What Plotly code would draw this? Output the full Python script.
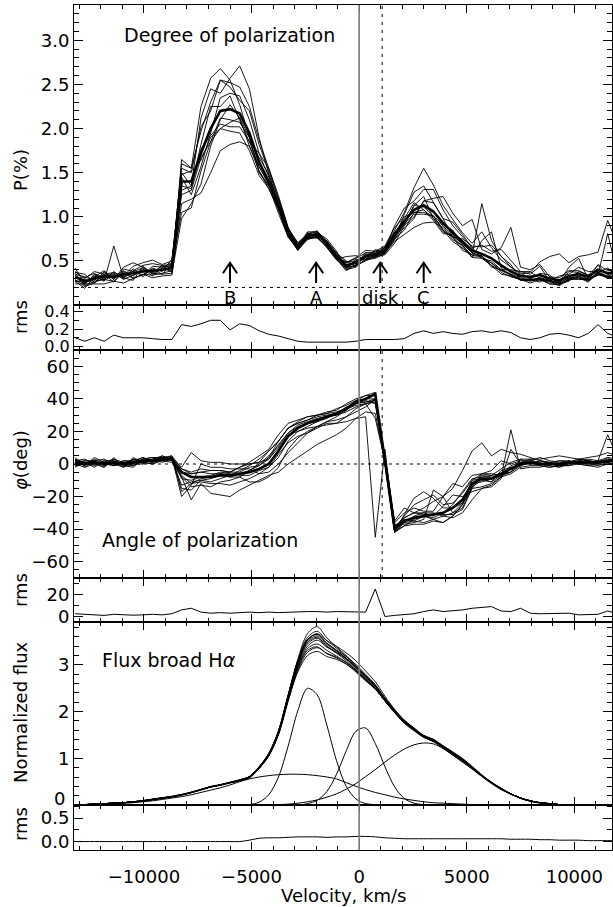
import numpy as np
import plotly.graph_objects as go

# ---------------- data ----------------
velocity = [-13200, -12750, -12300, -11850, -11400, -10950, -10500, -10050, -9600, -9150, -8700,
            -8250, -7800, -7350, -6900, -6450, -6000, -5550, -5100, -4650, -4200, -3750, -3300,
            -2850, -2400, -1950, -1500, -1050, -600, -150, 300, 750, 1200,
            1650, 2100, 2550, 3000, 3450, 3900, 4350, 4800, 5250, 5700,
            6150, 6600, 7050, 7500, 7950, 8400, 8850, 9300, 9750, 10200, 10650, 11100, 11550, 12000]

# degree of polarization (%), mean curve
p_mean = [0.32, 0.27, 0.30, 0.33, 0.32, 0.35, 0.36, 0.38, 0.39, 0.40, 0.42,
          1.40, 1.40, 1.72, 2.00, 2.20, 2.22, 2.17, 1.95, 1.62, 1.40, 1.12, 0.82,
          0.66, 0.78, 0.80, 0.70, 0.55, 0.45, 0.48, 0.55, 0.58, 0.62,
          0.80, 0.95, 1.08, 1.13, 1.06, 0.93, 0.82, 0.72, 0.62, 0.58,
          0.53, 0.45, 0.38, 0.33, 0.32, 0.34, 0.30, 0.28, 0.33, 0.35, 0.32, 0.40, 0.36, 0.38]
# individual epochs: offsets from the mean, in hundredths of a percent
p_dev = [
    [3, 5, -2, 4, -3, 6, 2, -4, 5, 3, 6, 10, -5, 40, 45, 20, 35, 54, 50, 28, 8, 5, 3,
     2, 3, 4, 2, -2, 3, 5, 4, 2, 3, 5, 10, 25, 42, 30, 20, 15, 10, 8, 25,
     12, 6, 5, 3, -2, 2, 4, -3, 5, 2, -4, 6, 3, 2],
    [-5, -8, 3, -6, 35, -4, -8, 6, -3, 5, -5, 25, 15, 53, 57, 48, 33, 10, -5, -12, -5, 8, 6,
     -3, -2, 2, 5, 6, -4, -3, -5, -2, 4, -5, 8, 20, 22, 10, 5, -5, -10, -5, 57,
     20, 10, 8, -5, -3, -8, 2, -4, -6, 3, 2, -3, 6, -5],
    [-8, -3, -6, -9, -5, -10, -6, -3, -8, -7, -8, -25, -20, -45, -50, -45, -40, -32, -15, -5, -3, 0, -3,
     -2, 2, -4, -3, -2, 4, 2, 0, 3, -2, -8, -15, -20, -20, -12, -5, -8, -4, -6, -3,
     -6, -5, -3, -5, -4, -3, -2, -3, -2, -4, -6, -3, -5, -6],
    [6, 3, 8, 2, 5, -2, 8, 10, 12, 6, 8, 15, 10, 30, 20, 35, 25, 15, 25, 20, 12, 8, 5,
     -3, 5, 3, -4, -3, -6, -2, 3, -4, 2, 10, 15, 10, 18, 25, 15, 8, 5, 3, 10,
     8, 18, 12, 5, 3, 10, -3, 5, 2, 8, 6, -2, -4, 3],
    [-6, 2, -5, 5, -3, 8, 12, 5, -4, 2, 3, -35, -30, -20, -15, -8, -12, -10, -5, 5, 8, 3, 4,
     4, -2, -3, 3, 4, 5, -4, 2, -3, -5, -10, -5, -8, 5, 10, 5, 12, 8, 3, -5,
     -5, -8, -6, -4, -7, -5, -3, -6, -4, -2, -3, -6, -4, -5],
    [10, -3, 4, -5, 2, -4, 5, -6, 3, -2, 10, -10, -5, 10, 25, 5, 15, -8, -10, 10, 15, 12, 6,
     2, -3, 4, -2, 3, -3, 2, -2, -3, 4, 3, -5, 5, 10, -8, -10, -4, -2, -3, -2,
     -10, -5, 2, 5, 6, -4, -6, -5, -3, -5, -2, -4, -3, -2],
    [-3, -6, -5, 2, -6, 3, -5, -4, 2, -5, -6, -42, -25, -35, -20, -10, 5, -5, -15, -10, -5, -8, -5,
     3, 4, -3, -4, -2, -3, 4, -4, 5, -3, -5, -10, -3, -5, -8, -3, -5, -6, -8, -5,
     -8, -10, -5, -4, -2, -5, -6, -4, -5, -3, -5, -4, -6, -3],
    [5, 8, -4, -3, 3, -5, 3, 7, 8, 5, 4, 5, -15, -15, -5, 15, 18, 20, 15, 10, 5, 3, 2,
     -2, 3, -2, 3, -3, 10, 8, -3, -2, -3, 0, -8, -10, 5, 15, 30, 22, 18, 35, 5,
     5, 20, 50, 10, 8, 12, 2, 3, 6, 4, 2, 5, -2, 6],
    [-2, 4, 6, -4, -5, 2, -6, -3, -5, -4, -3, -5, -8, 5, -8, -15, -20, -15, -10, -5, -3, -2, -4,
     -4, -3, -3, -5, -4, -2, -3, -4, -5, -4, -6, -3, -5, -10, -5, -2, 3, -3, -2, -5,
     -3, -5, -3, -2, -4, -3, -2, -3, -2, -3, -4, -3, -5, -4],
    [-4, -2, 2, 6, -2, 4, -3, 2, -2, 4, 2, 20, 15, 25, 30, 35, 30, 30, 30, 25, 15, 8, 5,
     5, 2, 3, 2, 4, 3, 6, 7, 3, 5, 8, 5, -3, -8, -5, -8, -5, 3, 5, 8,
     15, 10, 5, 2, 5, 15, 25, 30, 15, 20, 25, 20, 60, 30],
    [2, -5, -3, -4, 6, -6, -2, 3, -6, 2, -4, -15, -10, -5, -15, -20, -25, -22, -20, -15, -8, -3, -5,
     -3, -4, -2, -4, -3, -5, -5, -3, -4, -2, -3, -2, 5, -2, -5, -8, -10, -8, -5, -2,
     -8, -6, -4, -3, -5, -4, -3, -5, -4, -6, -3, -5, -4, -5],
    [4, -4, 5, -2, 4, -3, 2, 4, -3, -5, 5, 8, 12, -8, -10, -20, -15, -5, -5, -10, -8, -4, -2,
     -4, -2, -4, -3, 5, -2, -4, 5, -2, -3, 2, 3, 8, -5, -10, -12, -2, -4, -8, 15,
     30, -3, -5, -4, -3, -6, -4, -2, 10, 18, -3, -6, 45, -3],
]
p_rms = [0.10, 0.06, 0.10, 0.06, 0.13, 0.10, 0.10, 0.10, 0.09, 0.08, 0.08,
         0.25, 0.23, 0.26, 0.30, 0.30, 0.19, 0.26, 0.24, 0.18, 0.14, 0.12, 0.09,
         0.06, 0.05, 0.05, 0.05, 0.05, 0.05, 0.06, 0.08, 0.08, 0.08,
         0.08, 0.09, 0.15, 0.18, 0.15, 0.17, 0.15, 0.14, 0.17, 0.18,
         0.16, 0.18, 0.16, 0.10, 0.08, 0.10, 0.14, 0.15, 0.13, 0.10, 0.15, 0.25, 0.15, 0.11]

# angle of polarization (deg)
phi_mean = [1, 0, 1, 0, 1, 0, 1, 2, 2, 3, 3,
            -5, -8, -8, -8, -7, -7, -6, -5, -3, 0, 8, 17,
            22, 25, 27, 29, 31, 34, 38, 40, 43, 2,
            -40, -35, -33, -32, -31, -30, -27, -22, -12, -9,
            -9, -6, -3, 0, 1, 0, 0, 0, 1, 1, 1, 1, 2, 2]
phi_dev = [
    [2, -1, 3, 1, -2, 2, 0, -1, 1, 2, -1, 2, 3, 5, 4, 3, 2, 4, 5, 4, 3, 2, 1,
     -2, -3, -4, -5, -6, -8, -10, -11, -88, 7, 0, 2, 3, 2, 1, -2, -3, -2, -3, 2,
     1, -2, 0, 1, -1, 2, 0, -1, 1, 0, -1, 1, 0, -1],
    [-2, 1, -3, 2, 1, -2, 3, -1, -2, 0, 1, -15, -5, 8, 6, 5, 4, 3, 2, -3, -5, -8, -10,
     -9, -6, -4, -3, -2, -1, 0, -2, -3, 0, 1, 3, 8, 10, 12, 5, 3, 4, 2, 0,
     -2, 2, 1, -1, 0, 1, -1, 2, 0, -1, 1, 0, -1, 1],
    [1, 3, -1, -2, 2, -1, -3, 1, 2, -1, -2, -3, -14, -4, -10, -12, -13, -10, -8, -7, -7, -13, -17,
     -18, -17, -15, -14, -13, -12, -10, -8, -12, -1, 2, 1, -2, -4, -3, -6, -5, -3, 2, 3,
     2, 0, -2, 3, -1, 2, 1, -2, 0, 2, 1, -1, 1, 0],
    [3, -2, 1, 3, -1, 2, 1, 2, 0, -1, 1, 3, 15, 10, 9, 8, 7, 6, 5, 4, 8, 6, 5,
     4, 4, 3, 2, 1, 0, -2, -3, -5, -1, 4, 5, 6, 3, 2, 10, 15, 8, 5, 3,
     3, -1, 2, 1, 2, 0, 1, 2, 1, -1, 0, 1, 2, 1],
    [-1, 2, 0, -2, 3, -2, 2, 0, -1, 2, 0, -10, -8, -2, -3, -2, 0, 2, 4, 6, 8, 6, 5,
     3, 2, 3, 2, 3, 2, 1, 0, -3, 0, 3, -2, -3, -2, 15, 10, 12, 18, 20, 22,
     14, 15, 10, 6, 3, 2, 1, -1, 0, 2, 1, 0, -1, 1],
    [0, 1, -2, 1, -1, 0, 2, -2, 1, 0, 2, -12, -4, -3, -4, -5, -6, -5, -4, -3, -2, -2, -4,
     -5, -6, -5, -4, -6, -5, -4, -3, -4, 3, 5, 8, 3, 1, 0, -1, -4, -6, -3, -5,
     -3, -2, 24, -3, -3, -2, 0, -1, -2, 1, 0, -1, 2, -2],
    [1, -1, 2, 0, -2, 1, 0, 2, -1, 1, 0, -2, -4, -1, 0, 1, 2, 1, 3, 2, 4, 6, 5,
     3, 2, 2, 1, 0, -1, -1, -2, -4, -1, -2, -1, 1, 2, -1, 4, 8, 2, -5, -6,
     -5, -3, 12, 0, -1, 0, 1, 0, -1, 0, 1, 0, -1, 0],
    [-2, 0, 1, -1, 1, -1, -2, 1, 0, 1, -1, -3, -6, -5, -6, -4, -3, -2, -6, -8, -8, -10, -8,
     -6, -5, -4, -3, -4, -5, -6, -5, -3, 1, 2, -1, -2, 0, -3, -2, -6, -8, -10, -6,
     -4, -2, -3, -2, -2, -1, -2, -1, -2, -1, -2, -1, -2, -1],
    [2, 1, 0, 1, 2, 1, -1, 1, 2, 1, 2, 2, 2, 3, 4, 3, 2, 4, 6, 8, 9, 10, 8,
     5, 4, 3, 3, 2, 3, 2, 2, -1, 0, -1, -3, -4, -5, -4, -6, -5, -3, -2, -1,
     -2, -1, -2, 0, 1, 4, 2, 1, 0, 1, 2, 1, 16, 2],
    [-1, -2, -1, 0, -1, -2, 0, -1, -2, -1, 0, -8, -3, -2, -1, 0, -1, 0, 1, 2, 3, 4, 2,
     1, 0, -1, 0, -1, 0, 1, 2, 1, -2, 1, 2, 3, 5, 8, 10, -3, -5, -2, 3,
     5, 8, 3, 2, 1, 0, -1, -2, -1, 0, -1, -2, -1, 0],
    [0, 2, 1, -1, 0, 1, -2, 0, -1, 0, 1, -4, -2, 0, 1, 2, 1, -1, -2, -1, -2, -4, -3,
     -2, -2, -1, -1, 0, 1, -1, -1, -6, -2, -2, -3, -1, 0, -2, 0, 2, 5, 3, 1,
     2, 3, 4, 3, 2, 3, 4, 5, 3, 2, 3, 4, 5, 3],
    [-3, 1, -1, 2, -2, 0, -1, -2, 1, -2, 0, 0, 2, 3, 2, 1, -1, -2, 1, 3, 5, 3, 2,
     2, 1, 1, 0, -1, -2, -3, -3, -15, 0, -2, 4, 12, 15, 10, 3, 0, -2, 0, -2,
     0, -1, -2, -1, 0, -1, -2, -1, 0, -1, -2, -3, -2, -1],
]
phi_rms = [2.5, 2.0, 1.5, 1.0, 2.0, 1.5, 1.2, 1.5, 2.0, 1.5, 2.5,
           6.0, 7.5, 4.0, 3.0, 3.5, 3.0, 3.5, 4.0, 3.5, 4.0, 3.5, 4.0,
           4.0, 4.5, 4.5, 4.0, 4.5, 4.5, 4.5, 4.0, 25.0, 0.0,
           1.0, 1.5, 2.5, 4.5, 6.0, 4.5, 5.0, 6.0, 7.5, 8.0,
           9.0, 5.0, 4.5, 7.5, 3.0, 2.5, 2.5, 3.0, 3.0, 1.5, 1.5, 2.0, 5.0, 2.5]

# normalized broad H-alpha flux
flux_mean = [0.00, 0.01, 0.02, 0.03, 0.04, 0.05, 0.07, 0.09, 0.12, 0.15, 0.18,
             0.22, 0.27, 0.33, 0.39, 0.43, 0.48, 0.53, 0.60, 0.80, 1.08, 1.55, 2.30,
             3.00, 3.45, 3.57, 3.40, 3.27, 3.12, 2.93, 2.72, 2.52, 2.25,
             2.00, 1.78, 1.62, 1.47, 1.38, 1.24, 1.10, 0.96, 0.80, 0.63,
             0.48, 0.35, 0.24, 0.15, 0.09, 0.05, 0.03, 0.01, 0.00, 0.00, 0.00, 0.00, 0.00, 0.00]
flux_dev = [
    [0, 0, 0, 0, 0, 0, 0, 0, 0, 0, 0, 0, 0, 0, 0, 0, 0, 1, 1, 2, 3, 4, 6,
     12, 22, 25, 18, 12, 8, 6, 5, 4, 3, 3, 2, 2, 1, 1, 0, 0, 0, 0, 0,
     0, 0, 0, 0, 0, 0, 0, 0, 0, 0, 0, 0, 0, 0],
    [0, 0, 0, 0, 0, 0, 0, 0, 0, 0, 0, 0, 0, 0, 0, 0, 0, -1, -1, -1, -2, -3, -6,
     -15, -25, -28, -22, -15, -10, -6, -4, -3, -2, -2, -1, 0, 0, 1, 1, 1, 1, 0, 0,
     0, 0, 0, 0, 0, 0, 0, 0, 0, 0, 0, 0, 0, 0],
    [0, 0, 0, 0, 0, 0, 0, 0, 0, 0, 0, 0, 0, 0, 0, 0, 0, 0, 1, 1, 1, 2, 2,
     5, 8, 10, 12, 13, 14, 16, 15, 12, 8, 5, 4, 3, 2, 2, 1, 1, 1, 0, 0,
     0, 0, 0, 0, 0, 0, 0, 0, 0, 0, 0, 0, 0, 0],
    [0, 0, 0, 0, 0, 0, 0, 1, 1, 1, 1, 1, 1, 1, 1, 1, 1, 1, 1, 0, -1, 0, 1,
     4, 6, 5, 4, 3, 2, 2, 2, 3, 2, 2, 3, 3, 2, 2, 2, 2, 3, 2, 1,
     1, 1, 0, 0, 0, 0, 0, 0, 0, 0, 0, 0, 0, 0],
    [0, 0, 0, 0, 0, 0, 0, -1, -1, -1, -1, -1, -1, -1, -1, -1, -1, -1, -2, -2, -2, -3, -4,
     -6, -10, -12, -9, -8, -7, -5, -4, -3, -2, -2, -3, -3, -2, -2, -2, -3, -3, -2, -1,
     -1, -1, 0, 0, 0, 0, 0, 0, 0, 0, 0, 0, 0, 0],
    [0, 0, 0, 0, 0, 0, 0, 0, 0, 0, 0, 0, 0, 0, 0, 0, 1, 1, 1, 2, 2, 3, 5,
     8, 10, 8, 6, 5, 6, 8, 8, 6, 4, 3, 2, 1, 0, -1, -1, 0, 0, 0, 0,
     0, 0, 0, 0, 0, 0, 0, 0, 0, 0, 0, 0, 0, 0],
    [0, 0, 0, 0, 0, 0, 0, 0, 0, 0, 0, 0, 0, 0, 0, 0, 0, 0, -1, -1, -2, -3, -5,
     -8, -14, -18, -16, -12, -10, -8, -6, -4, -2, -1, 0, 1, 2, 3, 3, 3, 2, 1, 1,
     0, 0, 0, 0, 0, 0, 0, 0, 0, 0, 0, 0, 0, 0],
    [0, 0, 0, 0, 0, 0, 0, 0, 0, 0, 0, 0, 0, 0, 0, 0, 0, 0, 0, 1, 1, 1, 2,
     2, 3, 2, 0, -2, -3, -4, -4, -3, -2, -1, -1, 0, 1, 2, 3, 4, 4, 3, 2,
     1, 1, 0, 0, 0, 0, 0, 0, 0, 0, 0, 0, 0, 0],
    [0, 0, 0, 0, 0, 0, 0, 0, 0, 0, 0, 0, 0, 0, 0, 0, 0, 0, 1, 1, 2, 3, 5,
     10, 14, 15, 12, 9, 6, 4, 3, 2, 1, 0, -1, -2, -2, -2, -1, -1, 0, 0, 0,
     0, 0, 0, 0, 0, 0, 0, 0, 0, 0, 0, 0, 0, 0],
    [0, 0, 0, 0, 0, 0, 0, 0, 0, 0, 0, 0, 0, 0, 0, 0, 0, 0, 0, -1, -1, -2, -2,
     -3, -5, -4, -2, 0, 2, 4, 5, 5, 4, 3, 2, 1, 0, 0, -1, -1, -1, 0, 0,
     0, 0, 0, 0, 0, 0, 0, 0, 0, 0, 0, 0, 0, 0],
    [0, 0, 0, 0, 0, 0, 0, 0, 0, 0, 0, 0, 0, 0, 0, 0, 0, 0, 1, 1, 1, 2, 3,
     6, 9, 9, 7, 4, 2, 0, -1, -2, -2, -2, -2, -1, -1, 0, 0, 0, 0, 0, 0,
     0, 0, 0, 0, 0, 0, 0, 0, 0, 0, 0, 0, 0, 0],
    [0, 0, 0, 0, 0, 0, 0, 0, 0, 0, 0, 0, 0, 0, 0, 0, 0, -1, -1, -2, -3, -5, -8,
     -12, -18, -20, -15, -10, -6, -4, -3, -2, -2, -1, -1, 0, 0, 0, 0, 0, 0, 0, 0,
     0, 0, 0, 0, 0, 0, 0, 0, 0, 0, 0, 0, 0, 0],
]
# gaussian components of the fit
comp_broad = [0.00, 0.01, 0.01, 0.02, 0.03, 0.04, 0.05, 0.07, 0.09, 0.12, 0.15,
              0.18, 0.22, 0.27, 0.32, 0.37, 0.43, 0.50, 0.56, 0.60, 0.63, 0.65, 0.66,
              0.66, 0.65, 0.63, 0.60, 0.56, 0.48, 0.40, 0.33, 0.27, 0.22,
              0.17, 0.13, 0.10, 0.07, 0.05, 0.04, 0.03, 0.02, 0.01, 0.01,
              0.00, 0.00, 0.00, 0.00, 0.00, 0.00, 0.00, 0.00, 0.00, 0.00, 0.00, 0.00, 0.00, 0.00]
comp_blue = [0.00, 0.00, 0.00, 0.00, 0.00, 0.00, 0.00, 0.00, 0.00, 0.00, 0.00,
             0.00, 0.00, 0.00, 0.00, 0.00, 0.00, 0.00, 0.01, 0.06, 0.22, 0.60, 1.26,
             2.02, 2.50, 2.36, 1.71, 0.95, 0.40, 0.13, 0.03, 0.01, 0.00,
             0.00, 0.00, 0.00, 0.00, 0.00, 0.00, 0.00, 0.00, 0.00, 0.00,
             0.00, 0.00, 0.00, 0.00, 0.00, 0.00, 0.00, 0.00, 0.00, 0.00, 0.00, 0.00, 0.00, 0.00]
comp_core = [0.00, 0.00, 0.00, 0.00, 0.00, 0.00, 0.00, 0.00, 0.00, 0.00, 0.00,
             0.00, 0.00, 0.00, 0.00, 0.00, 0.00, 0.00, 0.00, 0.00, 0.00, 0.00, 0.00,
             0.00, 0.03, 0.10, 0.29, 0.66, 1.16, 1.58, 1.65, 1.32, 0.82,
             0.39, 0.14, 0.04, 0.01, 0.00, 0.00, 0.00, 0.00, 0.00, 0.00,
             0.00, 0.00, 0.00, 0.00, 0.00, 0.00, 0.00, 0.00, 0.00, 0.00, 0.00, 0.00, 0.00, 0.00]
comp_red = [0.00, 0.00, 0.00, 0.00, 0.00, 0.00, 0.00, 0.00, 0.00, 0.00, 0.00,
            0.00, 0.00, 0.00, 0.00, 0.00, 0.00, 0.00, 0.00, 0.00, 0.01, 0.01, 0.02,
            0.04, 0.07, 0.11, 0.17, 0.24, 0.34, 0.46, 0.61, 0.76, 0.92,
            1.07, 1.20, 1.29, 1.33, 1.31, 1.21, 1.07, 0.92, 0.77, 0.61,
            0.46, 0.33, 0.23, 0.14, 0.08, 0.04, 0.02, 0.01, 0.00, 0.00, 0.00, 0.00, 0.00, 0.00]
flux_rms = [0.00, 0.00, 0.00, 0.00, 0.00, 0.00, 0.00, 0.00, 0.00, 0.00, 0.00,
            0.00, 0.00, 0.00, 0.00, 0.00, 0.00, 0.00, 0.03, 0.07, 0.08, 0.08, 0.09,
            0.10, 0.10, 0.10, 0.09, 0.10, 0.10, 0.11, 0.11, 0.10, 0.08,
            0.07, 0.06, 0.06, 0.06, 0.06, 0.06, 0.06, 0.06, 0.06, 0.06,
            0.06, 0.06, 0.05, 0.05, 0.05, 0.04, 0.04, 0.03, 0.03, 0.03, 0.02, 0.02, 0.02, 0.02]

# markers / reference values
arrow_v = [-6000, -2000, 980, 3000]
arrow_labels = ["B", "A", "disk", "C"]
disk_line_v = 1070
p_floor = 0.2

# ---------------- sanity ----------------
n = len(velocity)
for arr in [p_mean, p_rms, phi_mean, phi_rms, flux_mean, flux_rms,
            comp_broad, comp_blue, comp_core, comp_red] + p_dev + phi_dev + flux_dev:
    assert len(arr) == n, len(arr)

V = np.array(velocity, dtype=float)
FONT = "DejaVu Sans"
FS = 18

fig = go.Figure()


def line(y, k, width=1.0, shape="linear", color="black"):
    xa = "x" if k == "1" else "x" + k
    ya = "y" if k == "1" else "y" + k
    fig.add_trace(go.Scatter(
        x=V, y=y, mode="lines", xaxis=xa, yaxis=ya,
        line=dict(color=color, width=width, shape=shape,
                  **({"smoothing": 0.9} if shape == "spline" else {})),
        showlegend=False, hoverinfo="skip"))


# panel 1: degree of polarization
for d in p_dev:
    line(np.array(p_mean) + np.array(d) / 100.0, "1", 0.9)
line(p_mean, "1", 2.6)
ax_x, ax_y = [], []
for v in arrow_v:
    ax_x += [v, v, None, v - 330, v, v + 330, None]
    ax_y += [0.25, 0.48, None, 0.36, 0.48, 0.36, None]
fig.add_trace(go.Scatter(x=ax_x, y=ax_y, mode="lines", xaxis="x", yaxis="y",
                         line=dict(color="black", width=2), showlegend=False, hoverinfo="skip"))

# panel 2: rms of P
line(p_rms, "2", 1.0)

# panel 3: angle
for d in phi_dev:
    line(np.array(phi_mean) + np.array(d), "3", 0.9)
line(phi_mean, "3", 2.6)

# panel 4: rms of angle
line(phi_rms, "4", 1.0)

# panel 5: flux
for d in flux_dev:
    line(np.array(flux_mean) + np.array(d) / 100.0, "5", 0.9, "spline")
line(flux_mean, "5", 0.9, "spline")
for c in [comp_broad, comp_blue, comp_core, comp_red]:
    line(c, "5", 1.0, "spline")

# panel 6: rms of flux
line(flux_rms, "6", 1.0, "spline")

# ---------------- layout ----------------
H0, H1 = 5, 850


def dom(top_px, bot_px):
    return [(H1 - bot_px) / (H1 - H0), (H1 - top_px) / (H1 - H0)]


def ypaper(px):
    return (H1 - px) / (H1 - H0)


panels = {
    "1": dict(dom=dom(5, 305), rng=[0.001, 3.4], t0=0.5, dt=0.5, fmt=".1f", md=0.1, fs=FS),
    "2": dict(dom=dom(305, 350), rng=[-0.04, 0.475], t0=0, dt=0.2, fmt=".1f", md=0.1, fs=16),
    "3": dict(dom=dom(350, 578), rng=[-70, 70], t0=0, dt=20, fmt="d", md=5, fs=FS),
    "4": dict(dom=dom(578, 622), rng=[-5, 35], t0=0, dt=20, fmt="d", md=10, fs=FS),
    "5": dict(dom=dom(622, 805), rng=[0.001, 3.92], t0=0, dt=1, fmt="d", md=0.2, fs=FS),
    "6": dict(dom=dom(805, 850), rng=[-0.18, 0.78], t0=0, dt=0.5, fmt=".1f", md=0.25, fs=FS),
}

layout = dict(
    width=613, height=907,
    margin=dict(l=74, r=1, t=5, b=57),
    paper_bgcolor="white", plot_bgcolor="white",
    font=dict(family=FONT, size=FS, color="black"),
    showlegend=False,
)

for k, p in panels.items():
    xname = "xaxis" if k == "1" else "xaxis" + k
    yname = "yaxis" if k == "1" else "yaxis" + k
    xa = dict(
        domain=[0, 1], range=[-13250, 11750], anchor="y" if k == "1" else "y" + k,
        showgrid=False, zeroline=False, showline=True, linecolor="black", linewidth=1,
        mirror="ticks", ticks="inside", ticklen=8, tickwidth=1, tickcolor="black",
        tickmode="linear", tick0=0, dtick=5000, tickformat="d",
        minor=dict(ticks="inside", ticklen=4, tickwidth=1, tickcolor="black",
                   tickmode="linear", tick0=0, dtick=1000, showgrid=False),
        showticklabels=(k == "6"), tickfont=dict(family=FONT, size=FS),
        ticklabelstandoff=10,
    )
    if k != "6":
        xa["matches"] = "x6"
    ya = dict(
        domain=p["dom"], range=p["rng"], anchor="x" if k == "1" else "x" + k,
        showgrid=False, zeroline=False, showline=True, linecolor="black", linewidth=1,
        mirror="ticks", ticks="inside", ticklen=9, tickwidth=1, tickcolor="black",
        tickmode="linear", tick0=p["t0"], dtick=p["dt"], tickformat=p["fmt"],
        minor=dict(ticks="inside", ticklen=5, tickwidth=1, tickcolor="black",
                   tickmode="linear", tick0=0, dtick=p["md"], showgrid=False),
        tickfont=dict(family=FONT, size=p["fs"]),
    )
    layout[xname] = xa
    layout[yname] = ya

fig.update_layout(**layout)

shapes = []
shapes.append(dict(type="line", xref="x6", yref="paper", x0=0, x1=0, y0=0, y1=1,
                   line=dict(color="#7a7a7a", width=1.6)))
for yr in ["y domain", "y3 domain"]:
    shapes.append(dict(type="line", xref="x6", yref=yr, x0=disk_line_v, x1=disk_line_v, y0=0, y1=1,
                       line=dict(color="black", width=1, dash="3px,5px")))
shapes.append(dict(type="line", xref="x domain", yref="y", x0=0, x1=1, y0=p_floor, y1=p_floor,
                   line=dict(color="black", width=1, dash="3px,4px")))
shapes.append(dict(type="line", xref="x3 domain", yref="y3", x0=0, x1=1, y0=0, y1=0,
                   line=dict(color="black", width=1, dash="3px,4px")))
fig.update_layout(shapes=shapes)

ann = []
for v, lab in zip(arrow_v, arrow_labels):
    ann.append(dict(x=v, y=0.085, xref="x", yref="y", text=lab, showarrow=False,
                    xanchor="center", yanchor="middle", font=dict(size=FS)))
ann.append(dict(x=0.089, y=0.9, xref="x domain", yref="y domain", text="Degree of polarization",
                showarrow=False, xanchor="left", yanchor="middle", font=dict(size=19)))
ann.append(dict(x=0.048, y=0.167, xref="x3 domain", yref="y3 domain", text="Angle of polarization",
                showarrow=False, xanchor="left", yanchor="middle", font=dict(size=19)))
ann.append(dict(x=0.048, y=0.79, xref="x5 domain", yref="y5 domain", text="Flux broad H<i>\u03b1</i>",
                showarrow=False, xanchor="left", yanchor="middle", font=dict(size=19)))
# flux-axis zero label sits a little above its tick, as in the original
ann.append(dict(x=0, y=ypaper(798), xref="paper", yref="paper", xshift=-7, text="0",
                showarrow=False, xanchor="right", yanchor="middle", font=dict(size=FS)))

for text, ypx in [("P(%)", 170), ("rms", 317), ("<i>\u03c6</i>(deg)", 460), ("rms", 590),
                  ("Normalized flux", 712), ("rms", 824)]:
    ann.append(dict(x=0, y=ypaper(ypx), xref="paper", yref="paper", xshift=-54, text=text,
                    textangle=-90, showarrow=False, xanchor="center", yanchor="middle",
                    font=dict(size=FS)))
ann.append(dict(x=0.5, y=ypaper(895), xref="paper", yref="paper", text="Velocity, km/s",
                showarrow=False, xanchor="center", yanchor="middle", font=dict(size=FS)))
fig.update_layout(annotations=ann)

fig.write_html("out.html")
